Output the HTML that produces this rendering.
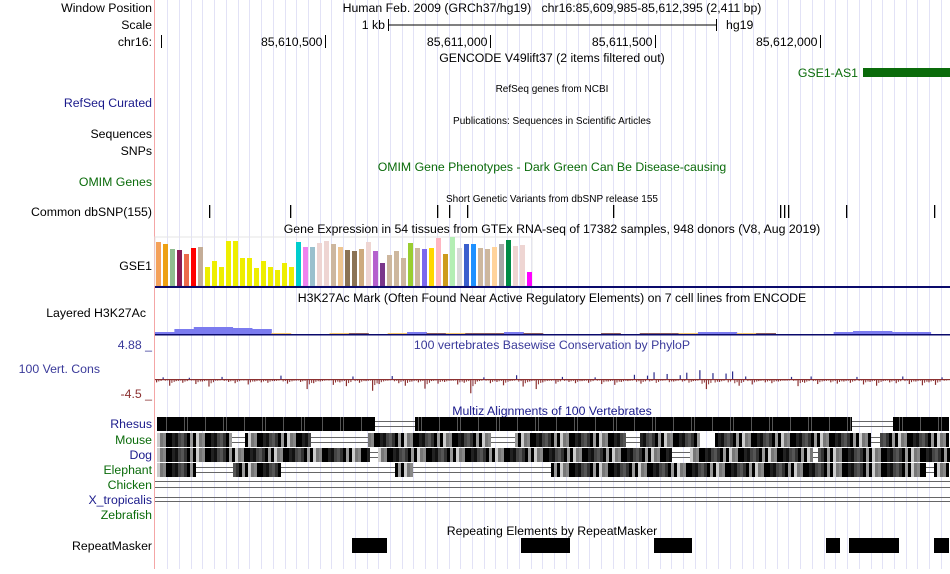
<!DOCTYPE html>
<html><head><meta charset="utf-8"><style>
body{margin:0;background:#fff;width:950px;height:569px;overflow:hidden;font-family:"Liberation Sans",sans-serif}
svg text{font-family:"Liberation Sans",sans-serif}
</style></head><body>
<svg id="ucsc" width="950" height="569" viewBox="0 0 950 569" xmlns="http://www.w3.org/2000/svg">
<g id="grid"></g>
<line x1="154.5" y1="0" x2="154.5" y2="569" stroke="#f4a6a6"/>
<g font-size="12.3" fill="#000" text-anchor="end">
<text x="152" y="12">Window Position</text>
<text x="152" y="29">Scale</text>
<text x="152" y="46">chr16:</text>
<text x="152" y="107" fill="#1a1a8b">RefSeq Curated</text>
<text x="152" y="138">Sequences</text>
<text x="152" y="155">SNPs</text>
<text x="152" y="186" fill="#0a6b0a">OMIM Genes</text>
<text x="152" y="216">Common dbSNP(155)</text>
<text x="152" y="270">GSE1</text>
<text x="146" y="317">Layered H3K27Ac</text>
<text x="152" y="349" fill="#3a3a9a">4.88 _</text>
<text x="100" y="373" fill="#3a3a9a">100 Vert. Cons</text>
<text x="152" y="398" fill="#8b3030">-4.5 _</text>
<text x="152" y="428" fill="#1a1a8b">Rhesus</text>
<text x="152" y="444" fill="#0a6b0a">Mouse</text>
<text x="152" y="459" fill="#1a1a8b">Dog</text>
<text x="152" y="474" fill="#0a6b0a">Elephant</text>
<text x="152" y="489" fill="#0a6b0a">Chicken</text>
<text x="152" y="504" fill="#1a1a8b">X_tropicalis</text>
<text x="152" y="519" fill="#0a6b0a">Zebrafish</text>
<text x="152" y="550">RepeatMasker</text>
</g>
<g font-size="12.3" text-anchor="middle">
<text x="552" y="12">Human Feb. 2009 (GRCh37/hg19)&#160;&#160;&#160;chr16:85,609,985-85,612,395 (2,411 bp)</text>
<text x="552" y="62">GENCODE V49lift37 (2 items filtered out)</text>
<text x="552" y="171" fill="#0a6b0a">OMIM Gene Phenotypes - Dark Green Can Be Disease-causing</text>
<text x="552" y="233">Gene Expression in 54 tissues from GTEx RNA-seq of 17382 samples, 948 donors (V8, Aug 2019)</text>
<text x="552" y="302">H3K27Ac Mark (Often Found Near Active Regulatory Elements) on 7 cell lines from ENCODE</text>
<text x="552" y="349" fill="#3a3a9a">100 vertebrates Basewise Conservation by PhyloP</text>
<text x="552" y="415" fill="#1a1a8b">Multiz Alignments of 100 Vertebrates</text>
<text x="552" y="535">Repeating Elements by RepeatMasker</text>
</g>
<g font-size="10" text-anchor="middle">
<text x="552" y="92">RefSeq genes from NCBI</text>
<text x="552" y="124">Publications: Sequences in Scientific Articles</text>
<text x="552" y="202">Short Genetic Variants from dbSNP release 155</text>
</g>
<g stroke="#000">
<line x1="388" y1="25" x2="717" y2="25"/><line x1="388.5" y1="19" x2="388.5" y2="31"/><line x1="716.5" y1="19" x2="716.5" y2="31"/>
</g>
<text x="385" y="29" font-size="12.3" text-anchor="end">1 kb</text>
<text x="726" y="29" font-size="12.3">hg19</text>
<g id="ruler" font-size="12.3" text-anchor="end"></g>
<text x="858" y="77" font-size="12.3" fill="#0a6b0a" text-anchor="end">GSE1-AS1</text>
<rect x="863" y="68" width="87" height="9" fill="#0a6b0a"/>
<g id="snps"></g>
<g id="gtex"></g>
<rect x="155" y="286" width="795" height="2" fill="#0a0a6b"/>
<g id="h3k"></g>
<rect x="155" y="334" width="795" height="1.5" fill="#0a0a6b"/>
<g id="cons"></g>
<g id="multiz"></g>
<g id="rmsk"></g>
</svg>
<script>
const NS='http://www.w3.org/2000/svg';
const gtexValues=[44,42,37,36,32,38,39,19,25,19,45,45,28,28,18,25,19,16,23,19,44,39,39,43,45,42,39,36,35,37,44,35,23,31,35,28,43,38,37,38,48,32,49,38,42,42,38,37,39,42,46,40,41,14];
const gtexColors=['#f4a15a','#eda013','#8fbc8f','#8b1a55','#ec6a4c','#ff0000','#c4ad97','#eeee00','#eeee00','#eeee00','#eeee00','#eeee00','#eeee00','#eeee00','#eeee00','#eeee00','#eeee00','#eeee00','#eeee00','#eeee00','#00cdcd','#ee82ee','#9ac0cd','#eed5d2','#eed5d2','#cdb79e','#eec591','#8b7355','#8b7355','#cdaa7d','#eed5d2','#b460cd','#7a378b','#cdb79e','#cdb79e','#cdb79e','#9acd32','#cdb79e','#7b68ee','#ffd700','#ffb6c1','#cd9b1d','#b4eeb4','#d9d9d9','#3a5fcd','#1e90ff','#cdb79e','#cdb79e','#ffd39b','#a6a6a6','#008b45','#eed5d2','#eed5d2','#ff00ff'];
const rulerLabels=['85,610,500','85,611,000','85,611,500','85,612,000'];
const rulerPositions=[85610500,85611000,85611500,85612000];
const snpPositions=[85610150,85610395,85610840,85610877,85610930,85611372,85611880,85611892,85611904,85612080,85612348];
const h3kValues=[2,5,7,7,6,5,1,0,0,1,1,0,1,2,1,1,1,1,2,1,0,0,0,1,0,1,1,1,2,2,1,1,0,0,0,2,3,3,2,2,0];
const consValues=[-0.8,0.4,-1.6,-0.5,-0.9,0.3,-1.2,-0.6,-1.8,-0.4,0.5,-0.7,-1.0,-0.3,-1.3,-0.6,-0.8,-0.9,-0.5,0.8,-1.1,-0.4,-0.7,-2.4,-1.0,-0.6,-0.3,-1.4,-0.8,-1.7,0.6,-0.9,-0.5,-2.8,-1.2,-0.4,0.7,-1.0,-1.6,-0.6,-0.8,-2.3,-0.5,-1.1,-0.7,-0.4,-1.3,-0.9,-3.4,-0.6,0.4,-1.0,-0.7,-1.5,-0.5,0.9,-1.8,-0.6,-2.4,-0.8,-0.4,-1.1,0.5,-0.7,-1.0,-0.5,-0.9,0.4,-1.2,-0.6,-1.4,-0.7,-0.5,1.0,-1.1,0.8,1.6,-0.4,1.2,-0.6,0.9,1.5,-0.5,2.1,-2.4,1.4,-0.7,1.3,1.8,-1.6,0.6,-1.3,-0.5,-0.8,-1.0,-0.6,-0.4,0.5,-1.7,-0.9,0.6,-1.2,-0.5,-0.8,-1.1,-0.6,-0.9,0.5,-1.3,-0.7,-1.6,-0.5,-0.8,-1.0,0.6,-1.2,-0.6,-1.5,-0.8,-1.4,0.4];
const multizRows=[
 {y:417,blocks:[[157,375],[415,852],[893,949]],lines:[[375,415],[852,893]]},
 {y:433,blocks:[[157,230],[245,310],[368,490],[515,625],[640,700],[715,870],[880,949]],lines:[[230,368],[490,640],[870,880]]},
 {y:448,blocks:[[157,370],[378,670],[690,812],[818,949]],lines:[[370,378],[670,690],[812,818]]},
 {y:463,blocks:[[157,195],[233,280],[395,413],[551,926],[934,949]],lines:[[195,233],[280,395],[413,551],[926,934]]}
];
const multizLineRows=[481,487,497,501];
const rmskBlocks=[[352,387],[521,570],[654,692],[826,840],[849,899],[934,949]];
const bpStart=85609985, bpEnd=85612395;
const xs=bp=>155+(bp-bpStart)/(bpEnd-bpStart)*795;
function mk(tag,attrs,parent){const e=document.createElementNS(NS,tag);for(const k in attrs)e.setAttribute(k,attrs[k]);parent.appendChild(e);return e;}
const grid=document.getElementById('grid');
for(let x=167.3;x<950;x+=11.72){const l=mk('line',{x1:Math.round(x)+0.5,y1:0,x2:Math.round(x)+0.5,y2:569,stroke:'#e2e2f6'},grid);

}
const ruler=document.getElementById('ruler');
mk('line',{x1:161.5,y1:35,x2:161.5,y2:48,stroke:'#000'},ruler);
rulerPositions.forEach((p,i)=>{const x=Math.round(xs(p))+0.5;mk('line',{x1:x,y1:35,x2:x,y2:48,stroke:'#000'},ruler);
const t=mk('text',{x:x-3,y:46},ruler);t.textContent=rulerLabels[i];

});
const snps=document.getElementById('snps');
snpPositions.forEach(p=>{const r=mk('rect',{x:Math.round(xs(p)),y:205,width:1.3,height:13,fill:'#000'},snps);

});
const gtex=document.getElementById('gtex');
mk('rect',{x:155,y:237,width:377,height:49,fill:'none',stroke:'#e6e6e6'},gtex);
const gy=v=>286-v;
gtexValues.forEach((v,i)=>{const r=mk('rect',{x:156+i*7,y:gy(v),width:5,height:286-gy(v),fill:gtexColors[i]},gtex);

});
const h3k=document.getElementById('h3k');
const hw=795/h3kValues.length;
h3kValues.forEach((v,i)=>{const c=v>=2?'#7b7bef':(i%3==0?'#f3c46a':'#8a5c5c');const r=mk('rect',{x:155+i*hw,y:334-v,width:hw+0.5,height:v,fill:c},h3k);

});
const cons=document.getElementById('cons');
const cw=792/consValues.length, base=379, cy=v=>base-v*4.2;
consValues.forEach((v,i)=>{const y=cy(v);const r=mk('rect',{x:156+i*cw,y:Math.min(y,base),width:1.2,height:Math.max(1,Math.abs(base-y)),fill:v>0?'#2b2b8c':'#8b3030'},cons);


const r2=mk('rect',{x:156+i*cw+cw*0.35,y:base,width:1,height:Math.abs(v)*1.8+1,fill:'#8b3030'},cons);


const r3=mk('rect',{x:156+i*cw+cw*0.7,y:base,width:1,height:Math.abs(v)*1.2+1,fill:'#8b3030'},cons);

});
mk('rect',{x:155,y:base,width:795,height:1.2,fill:'#8b3030'},cons);
const mz=document.getElementById('multiz');
const shades=['#000','#333','#777','#111','#999','#000','#555','#ccc','#222','#000','#888','#444','#000'];
multizRows.forEach((row,ri)=>{
 row.lines.forEach(l=>{mk('line',{x1:l[0],y1:row.y+4.5,x2:l[1],y2:row.y+4.5,stroke:'#666'},mz);mk('line',{x1:l[0],y1:row.y+9.5,x2:l[1],y2:row.y+9.5,stroke:'#666'},mz);});
 row.blocks.forEach(b=>{
  const g=mk('rect',{x:b[0],y:row.y,width:b[1]-b[0],height:14,fill:'#000'},mz);
  
  
  for(let x=b[0];x<b[1];x+=3){const k=(x*7+ri*13)%shades.length;const s=shades[k];
   if(ri==0){if(k%4==1)mk('rect',{x:x,y:row.y,width:1,height:14,fill:'#555'},mz);continue;}
   mk('rect',{x:x,y:row.y,width:3,height:14,fill:s},mz);}
 });
});
multizLineRows.forEach(y=>{const l=mk('line',{x1:155,y1:y+0.5,x2:950,y2:y+0.5,stroke:'#666'},mz);

});
const rm=document.getElementById('rmsk');
rmskBlocks.forEach(b=>{const r=mk('rect',{x:b[0],y:538,width:b[1]-b[0],height:15,fill:'#000'},rm);

});
</script>
</body></html>
